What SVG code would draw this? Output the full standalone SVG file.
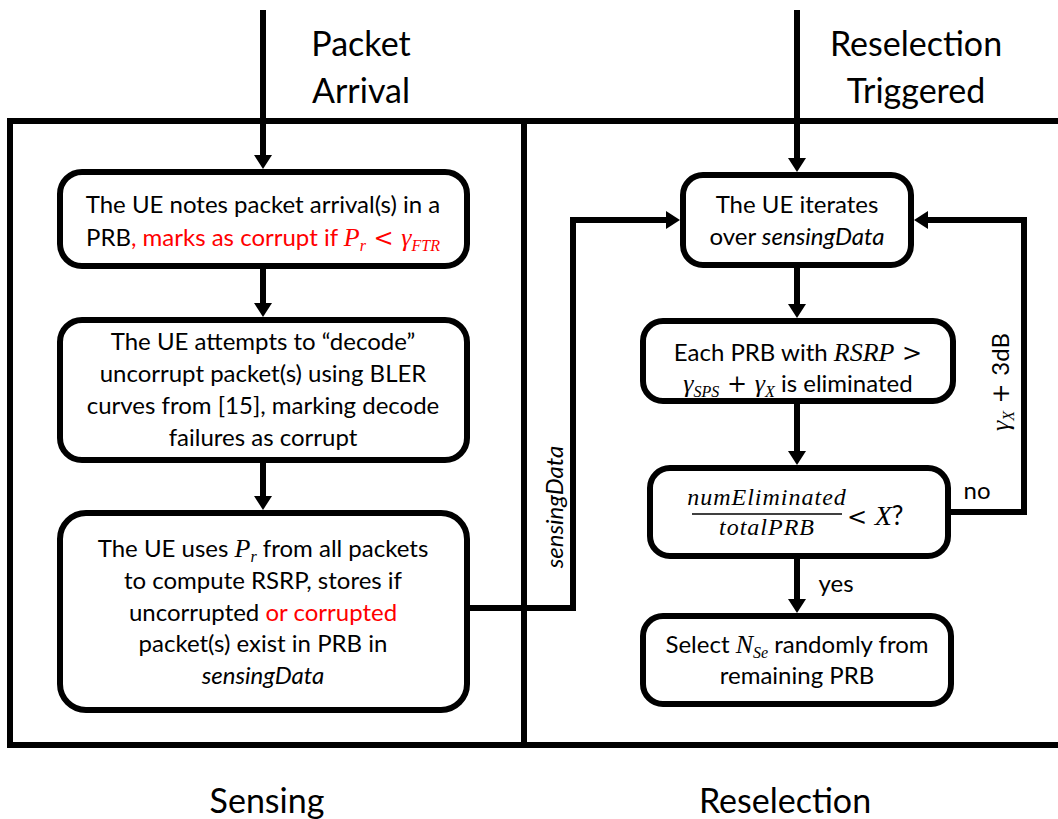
<svg xmlns="http://www.w3.org/2000/svg" width="1058" height="819" viewBox="0 0 1058 819">
  <style>
    .frame{fill:none;stroke:#000;stroke-width:6}
    .box{fill:#fff;stroke:#000;stroke-width:6}
    .wire{fill:none;stroke:#000;stroke-width:6}
    .t{font-family:Lato,"Liberation Sans",sans-serif;font-size:24px;fill:#000;text-anchor:middle}
    .title{font-size:34px}
    .m{font-family:"Liberation Serif","DejaVu Serif",serif;font-style:italic}
    .op{font-family:"DejaVu Serif",serif;font-size:24px}
    .i{font-style:italic}
    .red{fill:#f00}
    .sub{font-size:16px}
  </style>
  <defs>
    <marker id="arrow" viewBox="0 0 14 18" refX="4" refY="9" markerWidth="14" markerHeight="18" markerUnits="userSpaceOnUse" orient="auto">
      <path d="M0,0 L14,9 L0,18 z" fill="#000"/>
    </marker>
  </defs>

  <rect width="1058" height="819" fill="#fff"/>

  <!-- panels -->
  <g id="panels">
    <rect class="frame" x="10" y="121" width="1055" height="624"/>
    <line class="frame" x1="524" y1="121" x2="524" y2="745"/>
  </g>

  <!-- panel titles -->
  <g id="titles">
    <text class="t title" x="361" y="56">Packet</text>
    <text class="t title" x="361" y="103">Arrival</text>
    <text class="t title" x="916" y="56">Reselection</text>
    <text class="t title" x="916" y="103">Triggered</text>
    <text class="t title" x="267" y="813">Sensing</text>
    <text class="t title" x="785" y="813">Reselection</text>
  </g>

  <!-- connectors -->
  <g id="connectors">
    <path class="wire" d="M263,10 V159" marker-end="url(#arrow)"/>
    <path class="wire" d="M263,266 V307" marker-end="url(#arrow)"/>
    <path class="wire" d="M263,460 V500" marker-end="url(#arrow)"/>
    <path class="wire" d="M797,10 V162" marker-end="url(#arrow)"/>
    <path class="wire" d="M797,265 V308" marker-end="url(#arrow)"/>
    <path class="wire" d="M797,401 V455" marker-end="url(#arrow)"/>
    <path class="wire" d="M797,556 V603" marker-end="url(#arrow)"/>
    <path class="wire" d="M467,608 H573 V220 H670" marker-end="url(#arrow)"/>
    <path class="wire" d="M948,512 H1024 V220 H924" marker-end="url(#arrow)"/>
    <text class="t i" transform="translate(563,507) rotate(-90)">sensingData</text>
    <text class="t" transform="translate(1009,382) rotate(-90)"><tspan class="m" font-size="26">γ</tspan><tspan class="m sub" dy="5">X</tspan><tspan class="op" dy="-5"> + </tspan><tspan>3dB</tspan></text>
    <text class="t" x="977" y="499">no</text>
    <text class="t" x="836" y="592">yes</text>
  </g>

  <!-- sensing side -->
  <g id="note-arrival">
    <rect class="box" x="60" y="172" width="407" height="94" rx="22"/>
    <text class="t" x="263" y="213">The UE notes packet arrival(s) in a</text>
    <text class="t" x="263" y="246">PRB<tspan class="red">, marks as corrupt if </tspan><tspan class="m red" font-size="26">P</tspan><tspan class="m red sub" dy="5">r</tspan><tspan class="op red" dy="-5"> &lt; </tspan><tspan class="m red" font-size="26">γ</tspan><tspan class="m red sub" dy="5">FTR</tspan></text>
  </g>

  <g id="decode">
    <rect class="box" x="60" y="320" width="407" height="140" rx="22"/>
    <text class="t" x="263" y="350">The UE attempts to “decode”</text>
    <text class="t" x="263" y="382">uncorrupt packet(s) using BLER</text>
    <text class="t" x="263" y="414">curves from [15], marking decode</text>
    <text class="t" x="263" y="446">failures as corrupt</text>
  </g>

  <g id="store">
    <rect class="box" x="60" y="513" width="407" height="197" rx="26"/>
    <text class="t" x="263" y="557">The UE uses <tspan class="m" font-size="26">P</tspan><tspan class="m sub" dy="5">r</tspan><tspan dy="-5"> from all packets</tspan></text>
    <text class="t" x="263" y="589">to compute RSRP, stores if</text>
    <text class="t" x="263" y="621">uncorrupted <tspan class="red">or corrupted</tspan></text>
    <text class="t" x="263" y="652">packet(s) exist in PRB in</text>
    <text class="t i" x="263" y="684">sensingData</text>
  </g>

  <!-- reselection side -->
  <g id="iterate">
    <rect class="box" x="683" y="175" width="228" height="90" rx="20"/>
    <text class="t" x="797" y="213">The UE iterates</text>
    <text class="t" x="797" y="245">over <tspan class="i">sensingData</tspan></text>
  </g>

  <g id="eliminate">
    <rect class="box" x="643" y="321" width="310" height="80" rx="20"/>
    <text class="t" x="798" y="361">Each PRB with <tspan class="m" font-size="26">RSRP</tspan><tspan class="op"> &gt;</tspan></text>
    <text class="t" x="798" y="392"><tspan class="m" font-size="26">γ</tspan><tspan class="m sub" dy="5">SPS</tspan><tspan class="op" dy="-5"> + </tspan><tspan class="m" font-size="26">γ</tspan><tspan class="m sub" dy="5">X</tspan><tspan dy="-5"> is eliminated</tspan></text>
  </g>

  <g id="check">
    <rect class="box" x="650" y="468" width="298" height="88" rx="20"/>
    <text class="t m" x="767" y="505" font-size="20" letter-spacing="1">numEliminated</text>
    <line x1="692" y1="514" x2="842" y2="514" stroke="#000" stroke-width="1.6"/>
    <text class="t m" x="767" y="535" font-size="20" letter-spacing="1">totalPRB</text>
    <text class="t" x="847" y="525" style="text-anchor:start"><tspan class="op" font-size="26">&lt; </tspan><tspan class="m" font-size="28">X</tspan><tspan font-size="26">?</tspan></text>
  </g>

  <g id="select">
    <rect class="box" x="643" y="616" width="308" height="88" rx="20"/>
    <text class="t" x="797" y="653">Select <tspan class="m" font-size="26">N</tspan><tspan class="m sub" dy="5">Se</tspan><tspan dy="-5"> randomly from</tspan></text>
    <text class="t" x="797" y="684">remaining PRB</text>
  </g>
</svg>
